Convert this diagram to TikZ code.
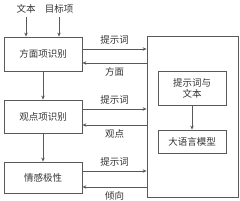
\documentclass[tikz,border=0pt]{standalone}
\usepackage{fontspec}
\newfontfamily\cjk{Noto Sans CJK SC}
\usetikzlibrary{arrows.meta}
\begin{document}
\begin{tikzpicture}[x=1pt,y=-1pt,
  every node/.style={font=\cjk\fontsize{9.5}{11}\selectfont, text=black!80},
  box/.style={draw=black!65, line width=0.8pt, inner sep=0pt},
  arr/.style={draw=black!65, line width=0.8pt, -{Stealth[length=4pt,width=3.5pt]}},
  ln/.style={draw=black!65, line width=0.8pt}]
\useasboundingbox (0,0) rectangle (240,200);
\node[box, minimum width=78pt, minimum height=34pt] (b1) at (43,54) {方面项识别};
\node[box, minimum width=78pt, minimum height=33pt] (b2) at (43,116.5) {观点项识别};
\node[box, minimum width=78pt, minimum height=31pt] (b3) at (43,177.5) {情感极性};
\node[box, minimum width=91pt, minimum height=161pt] (big) at (192.5,116.5) {};
\node[box, minimum width=68pt, minimum height=34pt, align=center] (i1) at (192,88) {提示词与\\文本};
\node[box, minimum width=68pt, minimum height=23pt] (i2) at (192,141.5) {大语言模型};
\node (t1) at (26,9) {文本};
\node (t2) at (59,9) {目标项};
\draw[arr] (t1.south |- 0,17) -- (t1.south |- b1.north);
\draw[arr] (t2.south |- 0,17) -- (t2.south |- b1.north);
\draw[arr] (b1) -- (b2);
\draw[arr] (b2) -- (b3);
\draw[arr] (i1) -- (i2);
\draw[arr] (b1.east |- 0,49) -- node[above=1pt] {提示词} (big.west |- 0,49);
\draw[arr] (big.west |- 0,63) -- node[below=1pt] {方面} (b1.east |- 0,63);
\draw[arr] (b2.east |- 0,109) -- node[above=1pt] {提示词} (big.west |- 0,109);
\draw[arr] (big.west |- 0,125) -- node[below=1pt] {观点} (b2.east |- 0,125);
\draw[arr] (b3.east |- 0,171) -- node[above=1pt] {提示词} (big.west |- 0,171);
\draw[arr] (big.west |- 0,187) -- node[below=1pt] {倾向} (b3.east |- 0,187);
\end{tikzpicture}
\end{document}
